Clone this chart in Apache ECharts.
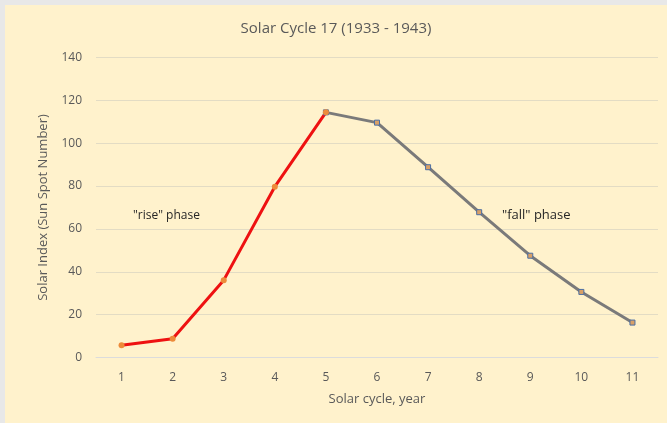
<!DOCTYPE html>
<html>
<head>
<meta charset="utf-8">
<script src="https://cdn.jsdelivr.net/npm/echarts@6/dist/echarts.min.js"></script>
<style>
  html, body { margin: 0; padding: 0; background: #e8e8e8; }
  #chart { position: absolute; left: 5px; top: 5px; width: 662px; height: 418px; }
</style>
</head>
<body>
<div id="chart"></div>
<script>
// solar cycle 17, yearly mean sunspot number
const years = ['1', '2', '3', '4', '5', '6', '7', '8', '9', '10', '11']
const risePhase = [5.7, 8.7, 36.1, 79.7, 114.4, null, null, null, null, null, null]
const fallPhase = [null, null, null, null, 114.4, 109.6, 88.8, 67.8, 47.5, 30.6, 16.3]

const font = '"Open Sans", "Liberation Sans", sans-serif'
const chart = echarts.init(document.getElementById('chart'))

chart.setOption({
  backgroundColor: '#fff2cc',
  animation: false,
  title: {
    text: 'Solar Cycle 17 (1933 - 1943)',
    left: 'center',
    top: 11,
    textStyle: { fontFamily: font, fontSize: 15, fontWeight: 'normal', color: '#595959' }
  },
  grid: { left: 91, right: 9, top: 52.5, bottom: 65.5 },
  xAxis: {
    type: 'category',
    data: years,
    name: 'Solar cycle, year',
    nameLocation: 'middle',
    nameGap: 35,
    nameTextStyle: { fontFamily: font, fontSize: 13, color: '#595959' },
    axisLine: { lineStyle: { color: '#dcdcdc', width: 1 } },
    axisTick: { show: false },
    axisLabel: { margin: 14, fontFamily: font, fontSize: 12, color: '#595959' }
  },
  yAxis: {
    type: 'value',
    min: 0,
    max: 140,
    interval: 20,
    name: 'Solar Index (Sun Spot Number)',
    nameLocation: 'middle',
    nameGap: 46,
    nameTextStyle: { fontFamily: font, fontSize: 13, color: '#595959' },
    axisLine: { show: false },
    axisTick: { show: false },
    axisLabel: { margin: 14, fontFamily: font, fontSize: 12, color: '#595959' },
    splitLine: { lineStyle: { color: '#e3dcc4', width: 1 } }
  },
  series: [
    {
      name: 'fall',
      type: 'line',
      data: fallPhase,
      symbol: 'rect',
      symbolSize: 5,
      lineStyle: { color: '#7a7a7a', width: 3 },
      itemStyle: { color: '#d9a066', borderColor: '#4a6fa5', borderWidth: 1 }
    },
    {
      name: 'rise',
      type: 'line',
      data: risePhase,
      symbol: 'circle',
      symbolSize: 6,
      z: 3,
      lineStyle: { color: '#ee1111', width: 3 },
      itemStyle: { color: '#ed8b3a', borderWidth: 0 }
    }
  ],
  graphic: [
    {
      type: 'text', left: 128, top: 205,
      style: { text: '"rise" phase', font: '12px ' + font, fill: '#262626' }
    },
    {
      type: 'text', left: 497, top: 204,
      style: { text: '"fall" phase', font: '13px ' + font, fill: '#262626' }
    }
  ]
})
</script>
</body>
</html>
